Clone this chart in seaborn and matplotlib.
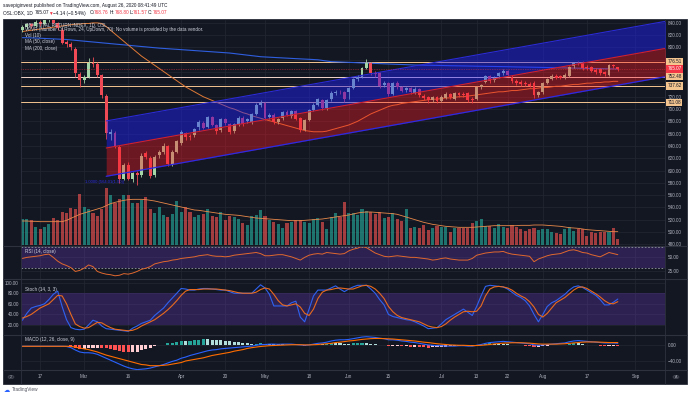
import matplotlib
matplotlib.use("Agg")
import matplotlib.pyplot as plt
import matplotlib.transforms as mtrans
from matplotlib.patches import Rectangle, Circle
from matplotlib.lines import Line2D
import numpy as np
import seaborn as sns

sns.set_theme(style="dark")
plt.rcParams["font.family"] = ["Liberation Sans", "DejaVu Sans"]

# ---- data (daily bars Feb 11 - Aug 26 2020, OSL:OBX) ----
opens = [828, 834, 838, 835, 842, 838, 844, 847, 840, 829,
         809, 806, 797, 757, 747, 752, 775, 773, 755, 721,
         659, 661, 638, 586, 609, 586, 596, 593, 629, 620,
         593, 625, 630, 640, 611, 630, 645, 661, 656, 658,
         671, 677, 671, 687, 674, 666, 684, 676, 664, 676,
         685, 680, 679, 692, 706, 710, 687, 691, 679, 685,
         695, 689, 697, 685, 666, 682, 698, 707, 714, 701,
         716, 726, 728, 727, 727, 734, 749, 752, 767, 775,
         759, 758, 739, 742, 724, 742, 736, 731, 734, 726,
         732, 721, 719, 714, 719, 713, 718, 724, 717, 726,
         725, 726, 716, 716, 735, 744, 753, 747, 754, 758,
         761, 752, 745, 744, 742, 741, 743, 723, 727, 742,
         749, 754, 753, 752, 754, 770, 775, 775, 768, 768,
         764, 765, 760, 756, 771, 768.76]
closes = [834, 838, 835, 842, 838, 844, 847, 840, 831, 808,
          806, 800, 758, 747, 752, 775, 773, 755, 723, 661,
          663, 640, 586, 609, 586, 596, 593, 624, 622, 591,
          622, 630, 640, 611, 630, 648, 663, 655, 654, 667,
          679, 669, 687, 674, 664, 684, 677, 663, 676, 685,
          676, 683, 692, 706, 710, 685, 690, 679, 684, 695,
          691, 697, 684, 666, 682, 698, 707, 716, 701, 714,
          726, 728, 727, 716, 734, 749, 752, 767, 775, 758,
          757, 737, 743, 724, 742, 736, 729, 734, 727, 733,
          722, 718, 714, 719, 713, 720, 724, 719, 726, 723,
          722, 714, 714, 735, 739, 753, 746, 751, 758, 762,
          755, 745, 742, 740, 740, 738, 722, 728, 742, 749,
          754, 751, 751, 756, 768, 774, 774, 767, 766, 762,
          760, 758, 757, 771, 769.21, 765.07]
highs = [836, 840, 840, 844, 844, 846, 849, 848, 842, 832,
         812, 809, 800, 760, 756, 783, 785, 776, 757, 724,
         668, 664, 642, 612, 614, 598, 600, 628, 632, 624,
         625, 634, 644, 642, 633, 650, 666, 663, 660, 669,
         682, 680, 689, 689, 676, 686, 686, 678, 678, 688,
         688, 686, 694, 709, 714, 712, 693, 694, 686, 697,
         698, 699, 699, 687, 684, 700, 709, 718, 716, 716,
         729, 731, 731, 729, 736, 751, 755, 769, 781, 777,
         762, 760, 746, 744, 744, 745, 738, 736, 736, 735,
         734, 724, 721, 721, 721, 722, 727, 726, 728, 728,
         727, 728, 719, 737, 741, 756, 755, 753, 760, 765,
         764, 755, 748, 747, 745, 744, 746, 730, 744, 751,
         757, 757, 755, 758, 770, 777, 778, 778, 771, 770,
         767, 767, 762, 773, 773, 768.80]
lows = [825, 830, 832, 833, 835, 836, 841, 838, 828, 805,
        800, 796, 752, 735, 742, 750, 768, 752, 718, 652,
        650, 636, 580, 584, 584, 582, 576, 590, 618, 588,
        590, 620, 627, 608, 608, 628, 642, 650, 650, 655,
        666, 667, 669, 672, 660, 662, 674, 660, 661, 672,
        673, 677, 676, 690, 703, 682, 684, 676, 676, 682,
        688, 686, 682, 662, 664, 680, 696, 705, 698, 699,
        713, 723, 724, 712, 716, 732, 746, 750, 765, 756,
        752, 734, 735, 721, 722, 733, 727, 728, 725, 724,
        719, 714, 710, 711, 710, 711, 716, 716, 714, 719,
        719, 711, 710, 714, 733, 742, 743, 744, 751, 756,
        753, 743, 739, 737, 738, 735, 718, 720, 725, 740,
        747, 748, 748, 749, 752, 767, 771, 764, 763, 760,
        757, 755, 754, 754, 766, 761.57]
volumes = [77, 79, 75, 55, 47, 55, 62, 81, 74, 99,
           95, 112, 109, 152, 115, 108, 95, 87, 109, 171,
           150, 125, 138, 151, 149, 127, 127, 135, 145, 108,
           95, 115, 90, 85, 92, 133, 100, 114, 98, 85,
           91, 93, 109, 88, 85, 98, 75, 86, 83, 78,
           65, 61, 87, 91, 105, 87, 75, 70, 64, 52,
           67, 68, 75, 75, 70, 65, 77, 80, 70, 47,
           85, 95, 83, 128, 95, 97, 90, 107, 103, 100,
           93, 98, 80, 85, 97, 79, 73, 109, 52, 55,
           52, 61, 46, 51, 57, 54, 54, 39, 51, 52,
           52, 51, 67, 71, 78, 57, 57, 52, 63, 54,
           52, 59, 55, 48, 43, 49, 52, 45, 49, 49,
           39, 37, 34, 47, 55, 43, 47, 47, 28, 39,
           37, 40, 40, 40, 50, 18]
vol_ma = [72, 72, 71, 71, 70, 70, 70, 70, 70, 70,
          74, 80, 86, 92, 96, 100, 104, 108, 112, 118,
          124, 128, 131, 134, 136, 137, 137, 137, 136, 134,
          132, 129, 126, 123, 120, 117, 114, 111, 108, 105,
          104, 102, 100, 98, 96, 94, 92, 91, 90, 89,
          87, 85, 83, 81, 80, 79, 78, 77, 76, 75,
          74, 73, 73, 73, 74, 75, 76, 77, 78, 80,
          82, 84, 86, 88, 90, 93, 96, 98, 99, 99,
          98, 97, 96, 95, 94, 92, 88, 84, 80, 76,
          72, 68, 65, 62, 60, 58, 56, 55, 54, 53,
          53, 53, 53, 54, 55, 56, 57, 58, 58, 58,
          58, 58, 58, 59, 59, 59, 60, 60, 60, 59,
          58, 57, 56, 54, 52, 51, 50, 48, 46, 45,
          44, 43, 42, 41, 40, 40]
ma50 = [826, 827, 828, 829, 830, 831, 832, 833, 834, 835,
        836, 837, 838, 838, 839, 839, 840, 840, 839, 834,
        828, 822, 816, 810, 804, 798, 792, 786, 781, 776,
        771, 766, 761, 756, 751, 746, 741, 736, 732, 728,
        724, 720, 717, 714, 711, 708, 705, 702, 700, 697,
        694, 692, 689, 687, 685, 683, 681, 679, 677, 675,
        673, 671, 669, 667, 665, 664, 663, 663, 663, 664,
        666, 668, 670, 672, 674, 677, 680, 684, 688, 692,
        695, 698, 701, 704, 706, 707, 709, 710, 711, 712,
        713, 714, 715, 716, 716, 717, 718, 718, 719, 720,
        720, 721, 722, 723, 724, 725, 726, 727, 728, 728,
        729, 730, 730, 731, 732, 733, 733, 734, 735, 735,
        736, 737, 737, 738, 739, 740, 740, 741, 742, 742,
        743, 743, 744, 744, 745, 745]
ma200 = [816, 815.8, 815.6, 815.4, 815, 814.7, 814.4, 814, 813.7, 813.3,
         813, 812.3, 811.6, 811, 810.3, 809.6, 809, 808.3, 807.6, 807,
         806.3, 805.6, 805, 804.3, 803.6, 803, 802.3, 801.6, 801, 800.3,
         799.6, 799, 798.5, 798, 797.5, 797, 796.5, 796, 795.5, 795,
         794.5, 794, 793.5, 793, 792.5, 792, 791.5, 791, 790.1, 789.3,
         788.4, 787.6, 786.7, 785.9, 785, 784.6, 784.2, 783.8, 783.5, 783.1,
         782.7, 782.3, 781.9, 781.5, 781.2, 780.8, 780.4, 780, 779, 778,
         777, 776.7, 776.4, 776.1, 775.8, 775.6, 775.3, 775, 774.7, 774.4,
         774.1, 773.8, 773.5, 773.2, 772.9, 772.6, 772.4, 772.1, 771.8, 771.5,
         771.4, 771.3, 771.1, 771, 770.9, 770.7, 770.6, 770.4, 770.3, 770.2,
         770, 769.9, 769.7, 769.6, 769.5, 769.3, 769.2, 769.1, 769, 768.9,
         768.7, 768.6, 768.4, 768.3, 768.1, 768, 767.9, 767.7, 767.6, 767.4,
         767.3, 767.1, 767, 766.8, 766.7, 766.5, 766.4, 766.2, 766, 765.8,
         765.7, 765.5, 765.4, 765.2, 765.1, 765]
rsi = [48, 50, 51, 52, 53, 55, 56, 50, 43, 38,
       35, 31, 24, 26, 30, 36, 33, 24, 21, 19,
       18, 16, 17, 20, 19, 21, 24, 28, 30, 33,
       38, 40, 42, 43, 45, 46, 48, 49, 50, 51,
       53, 54, 55, 53, 52, 52, 51, 52, 54, 55,
       56, 57, 58, 59, 57, 53, 53, 54, 55, 55,
       53, 51, 48, 45, 50, 54, 56, 57, 56, 59,
       58, 57, 56, 57, 62, 65, 67, 70, 68, 63,
       58, 55, 52, 51, 52, 53, 52, 51, 50, 50,
       49, 48, 47, 45, 46, 48, 49, 47, 46, 45,
       45, 45, 48, 54, 56, 58, 59, 60, 60, 61,
       58, 56, 55, 54, 53, 52, 42, 47, 50, 53,
       55, 56, 57, 60, 63, 64, 62, 59, 58, 55,
       53, 51, 55, 59, 57, 55]
stoch_k = [29, 42, 52, 55, 57, 60, 68, 78, 84, 55,
           30, 15, 12, 11, 12, 20, 29, 26, 18, 13,
           12, 11, 10, 9, 8, 14, 18, 23, 26, 29,
           38, 45, 52, 62, 71, 80, 89, 88, 86, 86,
           88, 89, 89, 88, 87, 86, 86, 83, 80, 80,
           80, 80, 80, 88, 96, 90, 78, 56, 56, 56,
           56, 62, 65, 35, 26, 50, 75, 86, 86, 86,
           90, 94, 88, 83, 88, 92, 95, 95, 95, 88,
           80, 68, 58, 40, 36, 34, 32, 30, 29, 26,
           22, 18, 13, 14, 15, 22, 30, 35, 40, 45,
           50, 44, 38, 55, 75, 93, 95, 94, 93, 92,
           88, 82, 76, 72, 66, 56, 40, 26, 40, 55,
           62, 66, 72, 78, 86, 92, 94, 91, 86, 81,
           76, 68, 58, 58, 63, 69]
stoch_d = [33, 36, 40, 46, 52, 56, 60, 68, 76, 75,
           60, 40, 22, 17, 14, 15, 20, 25, 24, 19,
           15, 12, 11, 10, 9, 10, 13, 18, 22, 26,
           30, 36, 42, 49, 57, 66, 76, 84, 87, 87,
           87, 88, 88, 88, 88, 87, 86, 85, 83, 81,
           80, 80, 80, 82, 87, 90, 88, 78, 66, 58,
           56, 58, 60, 54, 42, 38, 50, 70, 82, 86,
           87, 89, 90, 89, 88, 88, 91, 94, 95, 93,
           88, 80, 70, 55, 45, 38, 34, 32, 30, 28,
           26, 22, 18, 16, 15, 17, 22, 29, 35, 40,
           45, 46, 45, 46, 56, 75, 88, 92, 93, 92,
           90, 86, 80, 75, 71, 64, 54, 40, 35, 42,
           52, 62, 67, 72, 79, 86, 91, 92, 89, 84,
           79, 73, 66, 61, 60, 64]
macd = [-2.5, -2.5, -2.5, -2.5, -2.5, -2.5, -2.5, -2.5, -2.5, -2.5,
        -3, -6, -12, -17, -19, -19, -20, -23, -28, -33,
        -38, -43, -48, -53, -57, -60, -62, -61, -60, -58,
        -55, -52, -49, -45, -41, -38, -33, -30, -26, -23,
        -20, -17, -14, -12, -11, -9, -8, -7, -6, -5,
        -4, -3, -2, 0, 2, 2, 3, 3, 2.5, 3,
        3, 3, 2, 1, 0, 1, 3, 5, 6, 8,
        11, 13, 14, 14, 15, 17, 19, 21, 22, 21,
        20, 18, 17, 14, 14, 13, 11, 10, 8, 7,
        5, 3, 1, 0, -1, -1, -2, -2, -2, -1,
        -1, -2, -2, 0, 2, 5, 7, 8, 9, 10,
        9, 8, 7, 6, 5, 4, 1, 0, 1, 2,
        3, 4, 5, 6, 9, 11, 12, 11, 10, 9,
        8, 7, 6, 6, 6, 5]
signal = [-2.5, -2.5, -2.5, -2.5, -2.5, -2.5, -2.5, -2.5, -2.5, -2.5,
          -2.5, -3, -4.5, -7, -9, -11, -14, -17, -21, -25,
          -28, -31, -34, -37, -40, -43, -46, -49, -50, -52,
          -52, -52, -51, -50, -48, -46, -44, -40, -38, -36,
          -34, -32, -29, -26, -24, -22, -20, -18, -15, -13,
          -11, -8, -6, -4.5, -3, -2, -1, -0.5, 0, 0.5,
          1, 1.5, 1.5, 1.5, 1, 1, 1.5, 2, 3, 4,
          5, 7, 8, 9.5, 11, 12, 13.5, 15, 16, 17,
          17.5, 17.5, 17, 16.5, 16, 15, 14, 13, 12, 11,
          9.5, 8, 7, 5.5, 4, 3, 2, 1, 0.5, 0,
          0, -0.5, -1, -0.5, 0, 1, 2, 3.5, 4.5, 5.5,
          6, 6.5, 6.5, 6.5, 6, 5.5, 4.5, 3.5, 3, 3,
          3, 3, 3.5, 4, 5, 6, 7, 8, 8.5, 8.5,
          8.5, 8, 7.5, 7, 7, 7]

# regression channel (bar index, mid value) and half widths
chan_idx = [19, 146]
chan_mid = [636.6, 798.8]
chan_above = 44
chan_below = 46

levels = [776.51, 752.48, 737.62, 711.08]
last_price = 765.07

date_ticks = [4, 14, 24, 36, 46, 55, 65, 74, 83, 95, 103, 110, 118, 128, 139]
date_labels = ["17", "Mar", "16", "Apr", "20", "May", "18", "Jun", "15",
               "Jul", "13", "22", "Aug", "17", "Sep"]

series = [opens, closes, highs, lows, volumes, vol_ma, ma50, ma200,
          rsi, stoch_k, stoch_d, macd, signal]
assert len(set(len(s) for s in series)) == 1, [len(s) for s in series]

# ---- styling ----
BG = "#131722"
GRID = "#232733"
TXT = "#b2b5be"
UP = "#a5d6a7"
DOWN = "#ef4a55"
FS = 3.3
W, H = 690, 396
XMIN, XMAX = -0.32, 145.7

o = np.array(opens, float)
c = np.array(closes, float)
bars = np.arange(len(c))


def rect(x0, y0, x1, y1):
    return [x0 / W, 1 - y1 / H, (x1 - x0) / W, (y1 - y0) / H]


def ftext(x, y, s, **kw):
    kw.setdefault("fontsize", FS)
    kw.setdefault("va", "center")
    fig.text(x / W, 1 - y / H, s, **kw)


def style(a, ticks_right=True):
    a.set_facecolor(BG)
    for s in a.spines.values():
        s.set_visible(False)
    a.tick_params(length=0, labelsize=FS, colors=TXT, pad=2.2)
    if ticks_right:
        a.yaxis.tick_right()
    a.set_xticks(date_ticks)
    a.set_xticklabels([])
    a.grid(True, color=GRID, lw=0.5)
    a.set_axisbelow(True)
    a.set_xlabel("")
    a.set_ylabel("")


fig = plt.figure(figsize=(W / 100, H / 100), dpi=100)
fig.patch.set_facecolor("white")
fig.add_artist(Rectangle((3 / W, 1 - 384 / H), 684 / W, 365 / H,
                         transform=fig.transFigure, facecolor=BG,
                         edgecolor="#2a2e39", lw=0.6, zorder=0))

# ---- price pane + volume ----
ax_vol = fig.add_axes(rect(21, 20, 665, 245))
ax = fig.add_axes(rect(21, 20, 665, 245))
ax_vol.set_zorder(1)
ax.set_zorder(2)

vol_cols = [(0.149, 0.651, 0.604, 0.65) if up else (0.937, 0.325, 0.314, 0.65)
            for up in c >= o]
ax_vol.bar(bars, volumes, width=0.7, color=vol_cols, lw=0)
sns.lineplot(x=bars, y=vol_ma, ax=ax_vol, color="#e8894a", lw=0.6)
style(ax_vol)
ax_vol.set_yticks([])
ax_vol.grid(False)
for t in date_ticks:
    ax_vol.axvline(t, color=GRID, lw=0.5, zorder=0)
ax_vol.set_ylim(0, 675)
ax_vol.set_xlim(XMIN, XMAX)

price_grid = np.arange(480, 841, 20)
ax.set_facecolor("none")
for s in ax.spines.values():
    s.set_visible(False)
ax.tick_params(length=0, labelsize=FS, colors=TXT, pad=2.2)
ax.yaxis.tick_right()
ax.set_xticks([])
ax.set_yticks(price_grid)
ax.set_yticklabels(["" if v in (740, 760, 780) else f"{v:.2f}" for v in price_grid])
ytr = mtrans.blended_transform_factory(ax_vol.transAxes, ax.transData)
for v in price_grid:
    ax_vol.add_line(Line2D([0, 1], [v, v], transform=ytr, color=GRID, lw=0.5, zorder=0))

for lv in levels:
    ax.axhline(lv, color="#f5c590" if lv != 752.48 else "#f3d6cc", lw=0.7, zorder=2)
sns.lineplot(x=bars, y=ma200, ax=ax, color="#2f5fe0", lw=0.8, zorder=3)
sns.lineplot(x=bars, y=ma50, ax=ax, color="#e07a36", lw=0.7, zorder=3)

cols = np.where(c >= o, UP, DOWN)
ax.vlines(bars, lows, highs, colors=cols, lw=0.6, zorder=4)
ax.bar(bars, np.maximum(np.abs(c - o), 0.6), bottom=np.minimum(o, c),
       width=0.66, color=cols, lw=0, zorder=4)

cx = np.array(chan_idx, float)
cm = np.array(chan_mid)
ax.fill_between(cx, cm, cm + chan_above, color="#2020ff", alpha=0.45, lw=0, zorder=5)
ax.fill_between(cx, cm - chan_below, cm, color="#ff1a22", alpha=0.38, lw=0, zorder=5)
ax.plot(cx, cm + chan_above, color="#2a2ad8", lw=0.8, zorder=6)
ax.plot(cx, cm, color="#d42028", lw=0.8, zorder=6)
ax.plot(cx, cm - chan_below, color="#2a2ae6", lw=0.9, zorder=6)
ax.text(14.2, 581, "1.0000 (564.01(1.00))", color="#2c2cd8", fontsize=3.0,
        va="center", zorder=7)

ax.axhline(last_price, color="#f23645", lw=0.5, ls=(0, (1, 1.5)), alpha=0.8, zorder=6)
ax.set_xlim(XMIN, XMAX)
ax.set_ylim(478.9, 844.7)
ax.set_xlabel("")
ax.set_ylabel("")

lab_tr = mtrans.blended_transform_factory(ax.transAxes, ax.transData)
for lv in levels + [last_price]:
    red = lv == last_price
    ax.text(1.004, lv, f"{lv:.2f}", transform=lab_tr, fontsize=FS, va="center",
            ha="left", color="white" if red else "#131722", zorder=8, clip_on=False,
            bbox=dict(boxstyle="square,pad=0.25", fc="#f23645" if red else "#f5c590",
                      ec="none"))

legend_lines = [
    ("OBX TOTAL RETURN INDEX, 1D, OSL", 24.5),
    ("VPVR (Number Of Rows, 24, UpDown, 70): No volume is provided by the data vendor.", 29.8),
    ("Vol (10)", 35.2),
    ("MA (50, close)", 41.8),
    ("MA (200, close)", 48.2),
]
for s, y in legend_lines:
    ftext(25, y, s, color="#d1d4dc", zorder=20)

# ---- RSI ----
ax_rsi = fig.add_axes(rect(21, 246, 665, 278.5))
style(ax_rsi)
ax_rsi.axhspan(30, 70, color="#7b3fe4", alpha=0.25, lw=0)
for lv in (70, 30):
    ax_rsi.axhline(lv, color="#9598a1", lw=0.6, ls=(0, (2, 2)))
sns.lineplot(x=bars, y=rsi, ax=ax_rsi, color="#e0682e", lw=0.7)
ax_rsi.set_yticks([50, 25])
ax_rsi.set_yticklabels(["50.00", "25.00"])
ax_rsi.set_ylim(11, 71)
ax_rsi.set_xlim(XMIN, XMAX)
ax_rsi.set_xlabel("")
ax_rsi.set_ylabel("")
ftext(25, 251.7, "RSI (14, close)", color="#d1d4dc")

# ---- Stochastic ----
ax_st = fig.add_axes(rect(21, 279.5, 665, 334.5))
style(ax_st, ticks_right=False)
ax_st.axhspan(20, 80, color="#7b3fe4", alpha=0.25, lw=0)
sns.lineplot(x=bars, y=stoch_k, ax=ax_st, color="#2f62f0", lw=0.8)
sns.lineplot(x=bars, y=stoch_d, ax=ax_st, color="#e86a1e", lw=0.8)
ax_st.set_yticks([20, 40, 60, 80, 100])
ax_st.set_yticklabels(["20.00", "40.00", "60.00", "80.00", "100.00"])
ax_st.tick_params(axis="y", pad=1.5)
ax_st.set_ylim(2, 106)
ax_st.set_xlim(XMIN, XMAX)
ax_st.set_xlabel("")
ax_st.set_ylabel("")
ftext(25, 290, "Stoch (14, 3, 3)", color="#d1d4dc")

# ---- MACD ----
ax_m = fig.add_axes(rect(21, 335.5, 665, 370))
style(ax_m)
hist = np.array(macd) - np.array(signal)
hcols = []
for i, h in enumerate(hist):
    prev = hist[i - 1] if i else h
    if h >= 0:
        hcols.append("#26a69a" if h > prev else "#b2dfdb")
    else:
        hcols.append("#ff5252" if h < prev else "#ffcdd2")
ax_m.bar(bars, hist, width=0.7, color=hcols, lw=0)
sns.lineplot(x=bars, y=macd, ax=ax_m, color="#2962ff", lw=0.8)
sns.lineplot(x=bars, y=signal, ax=ax_m, color="#ff6d00", lw=0.8)
ax_m.set_yticks([0, -40])
ax_m.set_yticklabels(["0.00", "\u221240.00"])
ax_m.set_ylim(-63, 25)
ax_m.set_xlim(XMIN, XMAX)
ax_m.set_xlabel("")
ax_m.set_ylabel("")
ftext(25, 340, "MACD (12, 26, close, 9)", color="#d1d4dc")

# ---- date strip ----
ax_d = fig.add_axes(rect(21, 370.5, 665, 383))
ax_d.set_facecolor(BG)
for s in ax_d.spines.values():
    s.set_visible(False)
ax_d.set_xticks([])
ax_d.set_yticks([])
ax_d.set_xlim(XMIN, XMAX)
dtr = mtrans.blended_transform_factory(ax_d.transData, ax_d.transAxes)
for t, lab in zip(date_ticks, date_labels):
    ax_d.text(t, 0.5, lab, transform=dtr, ha="center", va="center", fontsize=FS, color=TXT)

# pane separators
for y in (245.5, 279, 335, 370.3):
    fig.add_artist(Line2D([3 / W, 687 / W], [1 - y / H] * 2, transform=fig.transFigure,
                          color="#2e323e", lw=0.8))
for x in (21, 665):
    fig.add_artist(Line2D([x / W] * 2, [1 - 19 / H, 1 - 384 / H], transform=fig.transFigure,
                          color="#2e323e", lw=0.6))
for x, s in ((11, "2"), (676, "A")):
    fig.add_artist(Circle((x / W, 1 - 377 / H), 3 / W, transform=fig.transFigure,
                          fc="#2a2e39", ec="#50535e", lw=0.4))
    ftext(x, 377, s, ha="center", color=TXT, fontsize=2.6)

# ---- header / footer ----
ftext(3, 5, "savepiginvest published on TradingView.com, August 26, 2020 08:41:49 UTC",
      color="#131722", fontsize=3.4)
header = [("OSL:OBX, 1D", 3, "#131722"), ("765.07", 35, "#131722"), ("\u25bc", 48.5, "#f23645"),
          ("\u22124.14 (\u22120.54%)", 53, "#131722"), ("O:", 90, "#131722"),
          ("768.76", 94, "#f23645"), ("H:", 110, "#131722"), ("768.80", 115, "#f23645"),
          ("L:", 129.5, "#131722"), ("761.57", 133, "#f23645"), ("C:", 148, "#131722"),
          ("765.07", 153, "#f23645")]
for s, x, col in header:
    ftext(x, 13, s, color=col, fontsize=3.4)

ftext(4, 390, "\u2601", color="#2962ff", fontsize=4.5)
ftext(12, 390, "TradingView", color="#50535e", fontsize=3.4)

fig.savefig("out.png", dpi=100, facecolor="white")
